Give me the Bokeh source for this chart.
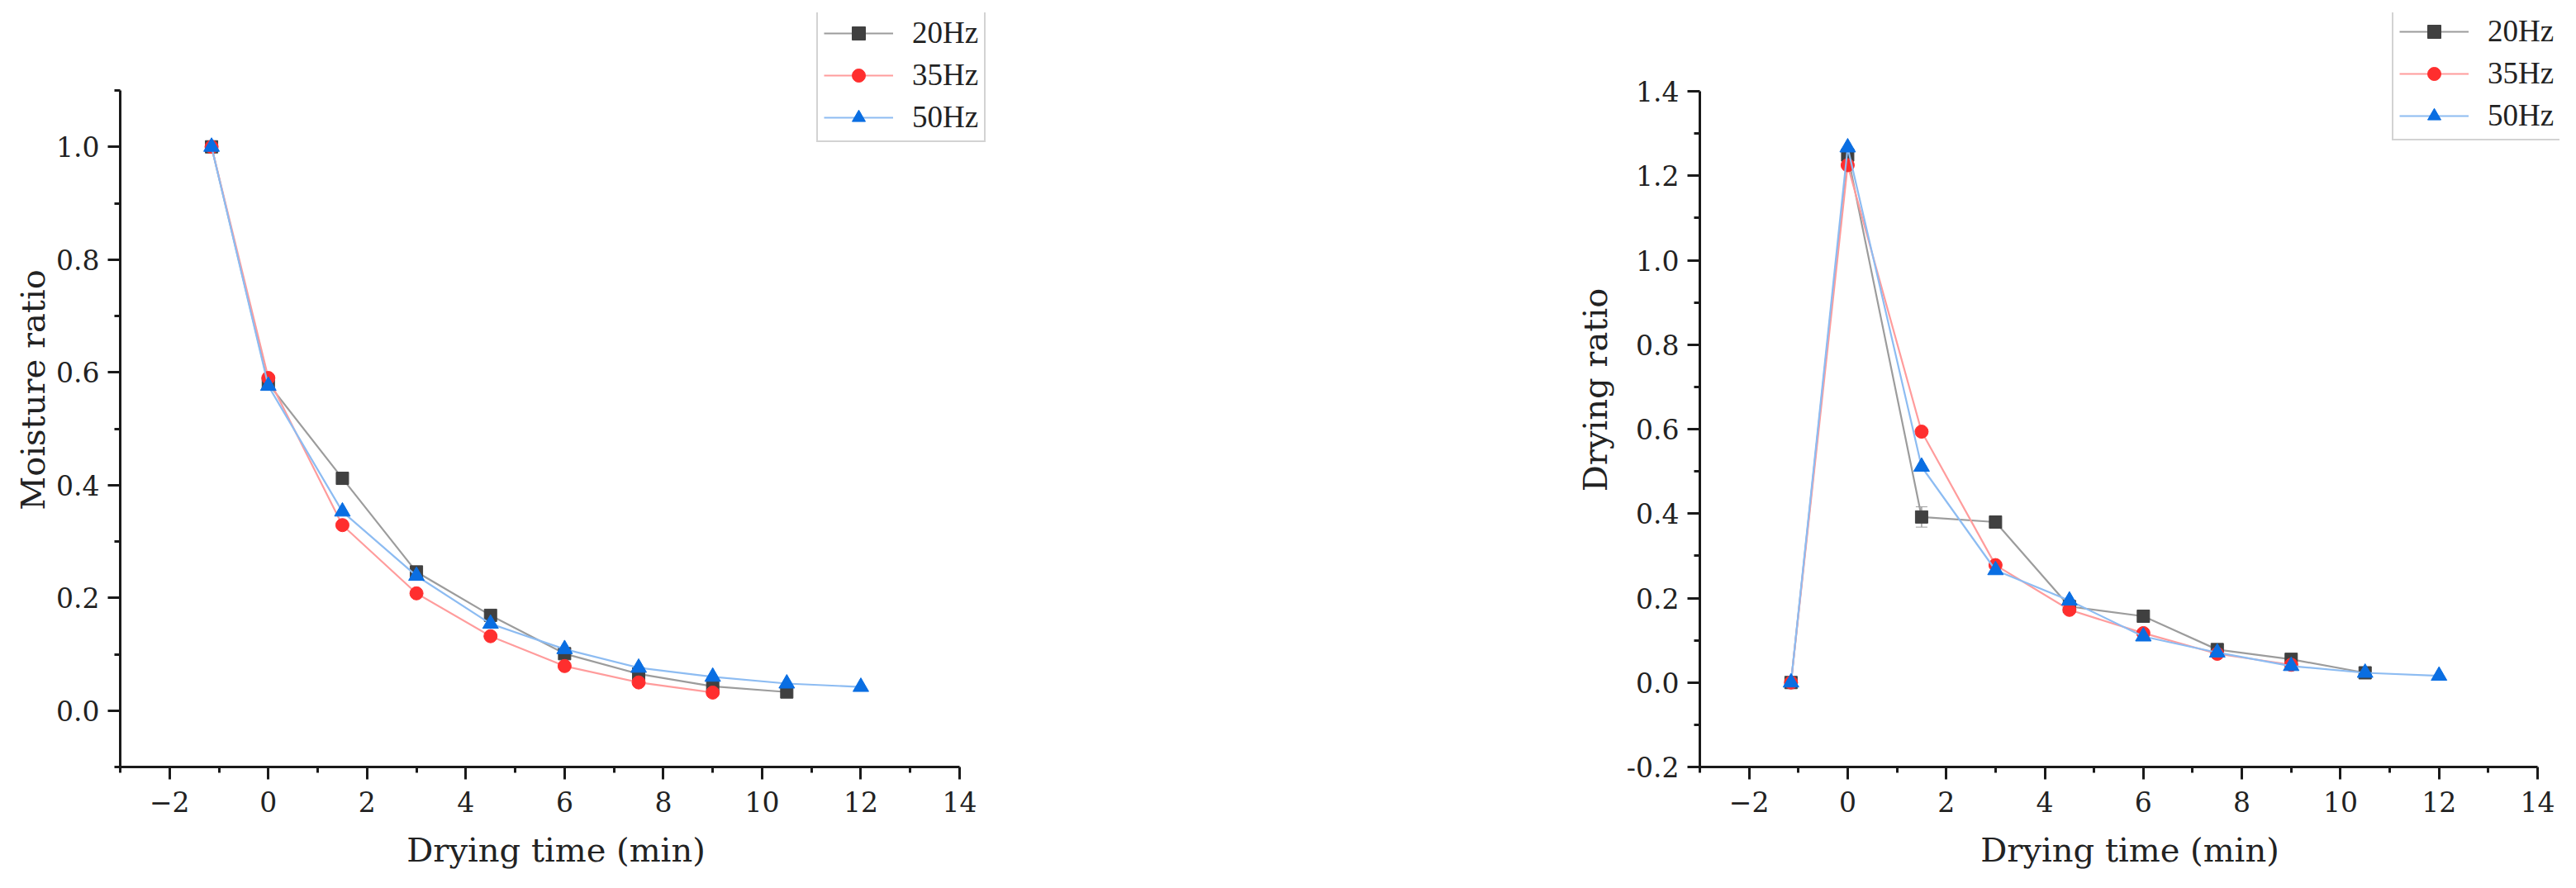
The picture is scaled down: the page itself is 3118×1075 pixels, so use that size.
from bokeh.plotting import figure
from bokeh.models import Range1d, FixedTicker, PrintfTickFormatter, Legend, LegendItem, Whisker, ColumnDataSource
from bokeh.layouts import row
from bokeh.embed import file_html
from bokeh.resources import INLINE

# ---- data ----
series_labels = ["20Hz", "35Hz", "50Hz"]
time_20 = [-1.15, 0, 1.5, 3, 4.5, 6, 7.5, 9, 10.5]
time_35 = [-1.15, 0, 1.5, 3, 4.5, 6, 7.5, 9]
time_50 = [-1.15, 0, 1.5, 3, 4.5, 6, 7.5, 9, 10.5, 12]

mr_20 = [1.0, 0.58, 0.412, 0.246, 0.169, 0.101, 0.065, 0.043, 0.033]
mr_35 = [1.0, 0.59, 0.329, 0.208, 0.132, 0.079, 0.050, 0.032]
mr_50 = [1.0, 0.576, 0.353, 0.239, 0.154, 0.109, 0.076, 0.060, 0.048, 0.042]

dr_20 = [0.0, 1.249, 0.392, 0.380, 0.180, 0.157, 0.078, 0.055, 0.023]
dr_35 = [0.0, 1.225, 0.594, 0.278, 0.172, 0.117, 0.068, 0.042]
dr_50 = [0.0, 1.267, 0.511, 0.266, 0.194, 0.109, 0.071, 0.039, 0.023, 0.016]
dr_20_err = [0, 0, 0.024, 0, 0, 0, 0, 0, 0]

x_axis_range = (-3, 14)
y1_axis_range = (-0.1, 1.1)
y2_axis_range = (-0.2, 1.4)
x_major = [-2, 0, 2, 4, 6, 8, 10, 12, 14]
x_minor = [-3, -1, 1, 3, 5, 7, 9, 11, 13]
y1_major = [0.0, 0.2, 0.4, 0.6, 0.8, 1.0]
y1_minor = [-0.1, 0.1, 0.3, 0.5, 0.7, 0.9, 1.1]
y2_major = [-0.2, 0.0, 0.2, 0.4, 0.6, 0.8, 1.0, 1.2, 1.4]
y2_minor = [-0.1, 0.1, 0.3, 0.5, 0.7, 0.9, 1.1, 1.3]

line_colors = ["#9c9c9c", "#ff9c9c", "#8dbcf2"]
marker_colors = ["#404040", "#ff2e2e", "#0a6ee2"]
markers = ["square", "circle", "triangle"]
marker_sizes = [15, 16, 19]

AX_FONT = "DejaVu Serif"


def make_fig(width, height, fl, fr, ft, fb, ax_right, ax_top, yr, ymaj, ymin, ylabel, ylabel_standoff):
    # fl/fr/ft/fb: frame edges in page px; ax_right/ax_top: where the axes end
    xs, xe = x_axis_range
    ys, ye = yr
    xppu = (ax_right - fl) / (xe - xs)
    yppu = (fb - ax_top) / (ye - ys)
    x_end = xs + (fr - fl) / xppu
    y_end = ys + (fb - ft) / yppu
    p = figure(width=width, height=height, output_backend="svg", toolbar_location=None,
               x_range=Range1d(xs, x_end), y_range=Range1d(ys, y_end),
               min_border_left=fl, min_border_right=width - fr,
               min_border_top=ft, min_border_bottom=height - fb)
    p.outline_line_color = None
    p.xgrid.visible = False
    p.ygrid.visible = False
    p.background_fill_color = "white"
    p.xaxis.bounds = (xs, xe)
    p.yaxis.bounds = (ys, ye)
    p.xaxis.ticker = FixedTicker(ticks=x_major, minor_ticks=x_minor)
    p.yaxis.ticker = FixedTicker(ticks=ymaj, minor_ticks=ymin)
    p.yaxis.formatter = PrintfTickFormatter(format="%.1f")
    p.xaxis.axis_label = "Drying time (min)"
    p.yaxis.axis_label = ylabel
    for ax in (p.xaxis[0], p.yaxis[0]):
        ax.axis_line_width = 3
        ax.axis_line_color = "#1a1a1a"
        ax.major_tick_line_width = 3
        ax.minor_tick_line_width = 3
        ax.major_tick_line_color = "#1a1a1a"
        ax.minor_tick_line_color = "#1a1a1a"
        ax.major_tick_out = 15
        ax.major_tick_in = 0
        ax.minor_tick_out = 7
        ax.minor_tick_in = 0
        ax.major_label_text_font = AX_FONT
        ax.major_label_text_font_size = "33px"
        ax.major_label_text_color = "#222222"
        ax.axis_label_text_font = AX_FONT
        ax.axis_label_text_font_size = "40px"
        ax.axis_label_text_font_style = "normal"
        ax.axis_label_text_color = "#222222"
    p.xaxis.major_label_standoff = 14
    p.yaxis.major_label_standoff = 10
    p.xaxis.axis_label_standoff = 20
    p.yaxis.axis_label_standoff = ylabel_standoff
    return p


def add_series(p, xs_list, ys_list, legend_loc):
    items = []
    for i, (xs, ys) in enumerate(zip(xs_list, ys_list)):
        src = ColumnDataSource(dict(x=xs, y=ys))
        ln = p.line("x", "y", source=src, line_color=line_colors[i], line_width=2.2)
        sc = p.scatter("x", "y", source=src, marker=markers[i], size=marker_sizes[i],
                       fill_color=marker_colors[i], line_color=marker_colors[i])
        items.append(LegendItem(label=series_labels[i], renderers=[ln, sc]))
    leg = Legend(items=items, location=legend_loc, glyph_width=84, glyph_height=40,
                 label_height=40, spacing=8, padding=7, margin=0, label_standoff=23,
                 border_line_color="#a8a8a8", border_line_width=2,
                 label_text_font="Liberation Serif", label_text_font_size="37px",
                 label_text_color="#222222", background_fill_color="white", background_fill_alpha=1)
    p.add_layout(leg)


W1, W2, H = 1555, 1545, 1059
# left panel: frame 145..1200 x 15..928, axes end at x=1161 / y=109
p1 = make_fig(W1, H, 145, 1200, 15, 928, 1161, 109, y1_axis_range, y1_major, y1_minor, "Moisture ratio", 2)
add_series(p1, [time_20, time_35, time_50], [mr_20, mr_35, mr_50], (843, 756))

# right panel (starts at page x = W1): frame 2057..3098, axes end at x=3071 / y=110
p2 = make_fig(W2, H, 2057 - W1, 3098 - W1, 15, 928, 3071 - W1, 110, y2_axis_range, y2_major, y2_minor, "Drying ratio", 12)
err_idx = [i for i, e in enumerate(dr_20_err) if e > 0]
wsrc = ColumnDataSource(dict(base=[time_20[i] for i in err_idx],
                             upper=[dr_20[i] + dr_20_err[i] for i in err_idx],
                             lower=[dr_20[i] - dr_20_err[i] for i in err_idx]))
wh = Whisker(base="base", upper="upper", lower="lower", source=wsrc, line_color="#9c9c9c", line_width=1.5)
wh.upper_head.size = 14
wh.lower_head.size = 14
wh.upper_head.line_color = "#9c9c9c"
wh.lower_head.line_color = "#9c9c9c"
p2.add_layout(wh)
add_series(p2, [time_20, time_35, time_50], [dr_20, dr_35, dr_50], (838, 758))

layout = row(p1, p2)
open("out.html", "w").write(file_html(layout, INLINE))
